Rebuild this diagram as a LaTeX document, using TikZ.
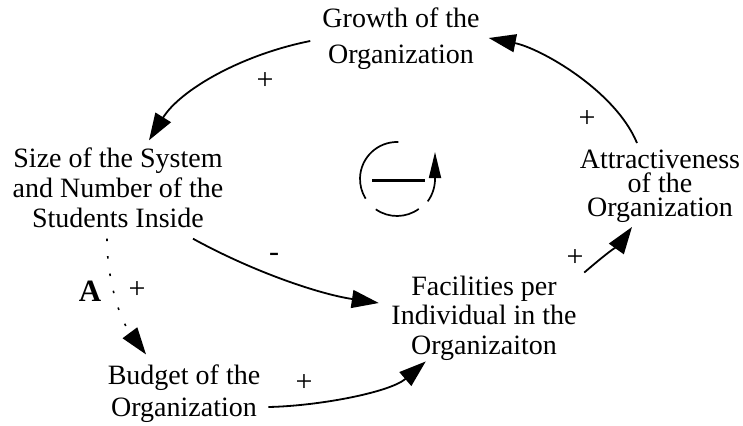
\documentclass[tikz,border=0pt]{standalone}
\usepackage{fontspec}
\setmainfont{Liberation Serif}
\usetikzlibrary{arrows.meta}

\tikzset{
  concept/.style={align=center, inner sep=0pt, font=\fontsize{28}{#1}\selectfont},
  sign/.style={inner sep=0pt, anchor=base, font=\fontsize{30}{32}\selectfont},
  link/.style={line width=1.8pt, -{Triangle[length=27pt,width=18pt]}},
  weaklink/.style={link, line width=1.6pt, dash pattern=on 2.5pt off 15pt},
  loopline/.style={line width=1.7pt}
}

\begin{document}
\begin{tikzpicture}[x=1pt, y=-1pt]
  \useasboundingbox (0,0) rectangle (743,425);

  % variables of the causal loop
  \node[concept=36] (g)  at (401,38.5)  {Growth of the\\Organization};
  \node[concept=30] (s)  at (118,187.5) {Size of the System\\and Number of the\\Students Inside};
  \node[concept=24] (at) at (660,186.5) {Attractiveness\\of the\\Organization};
  \node[concept=29.5] (f) at (484,318)  {Facilities per\\Individual in the\\Organizaiton};
  \node[concept=32] (b)  at (184,393.5) {Budget of the\\Organization};

  % causal links
  \draw[link] ([shift={(-12,2.5)}]g.west)
    .. controls +(-70,14) and +(31,-50) .. ([shift={(31,-7)}]s.north);
  \draw[link] ([shift={(-23,-7)}]at.north)
    .. controls +(-22,-53) and +(51,10) .. ([shift={(9,-0.5)}]g.east);
  \draw[link] ([shift={(75,11)}]s.south)
    .. controls +(60,33) and +(-60,-9) .. ([shift={(-12.5,-15)}]f.west);
  \draw[link] ([shift={(7.5,-3)}]f.north east)
    .. controls +(15,-13) and +(-10,14) .. ([shift={(-28,4)}]at.south);
  \draw[link] ([shift={(8,13.5)}]b.east)
    .. controls +(50,-1) and +(-36,31) .. ([shift={(34.5,1)}]f.south west);
  \draw[weaklink] ([shift={(-11,11)}]s.south)
    .. controls +(0,42) and +(-26,-35) .. ([shift={(-38,-10)}]b.north);

  % polarities
  \node[sign] (p1) at (265,90)  {+};
  \node[sign] (p2) at (587,127) {+};
  \node[sign] (p3) at (274,261) {-};
  \node[sign] (p4) at (575,266) {+};
  \node[sign] (p5) at (304,391) {+};
  \node[sign] (p6) at (137,298) {+};
  \node[sign, font=\fontsize{31}{32}\selectfont\bfseries] (mark) at (90,301) {A};

  % balancing loop symbol
  \node[circle, minimum size=74pt, inner sep=0pt] (loop) at (397,179) {};
  \begin{scope}[shift={(loop.center)}, x=1pt, y=1pt]
    \draw[loopline] (88:37) arc[start angle=88, end angle=212, radius=37];
    \draw[loopline] (235:37) arc[start angle=235, end angle=306, radius=37];
    \draw[loopline, -{Triangle[length=26pt,width=12pt]}]
      (324:38) arc[start angle=324, end angle=360, radius=38] -- ++(0,27);
    \draw[line width=3pt] (-25,-1.5) -- (28,-1.5);
  \end{scope}
\end{tikzpicture}
\end{document}
